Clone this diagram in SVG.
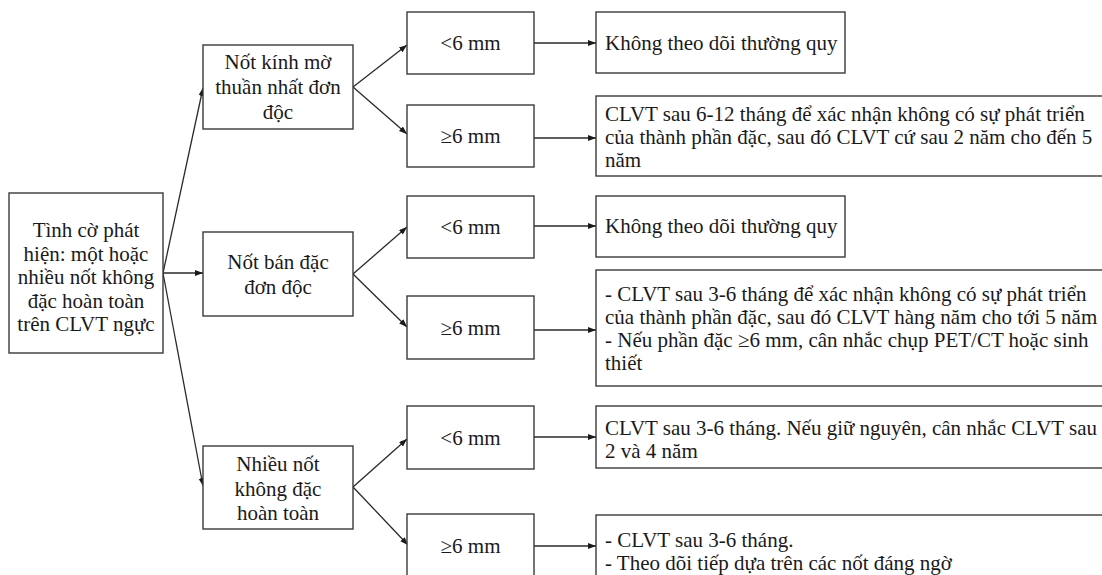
<svg xmlns="http://www.w3.org/2000/svg" width="1102" height="575" viewBox="0 0 1102 575">
  <style>
    .box { fill: #ffffff; stroke: #3a3a3a; stroke-width: 1.4; }
    .t { font-family: "Liberation Serif", "Times New Roman", serif; font-size: 21px; fill: #1a1a1a; }
    .c { text-anchor: middle; }
    .edge { fill: none; stroke: #2a2a2a; stroke-width: 1.3; marker-end: url(#arrow); }
  </style>
  <defs>
    <marker id="arrow" markerUnits="userSpaceOnUse" markerWidth="9" markerHeight="7" refX="8" refY="3" orient="auto">
      <path d="M0,0 L8,3 L0,6 z" fill="#1a1a1a"/>
    </marker>
  </defs>
  <rect width="1102" height="575" fill="#ffffff"/>

  <!-- connectors -->
  <g id="connectors">
    <line class="edge" x1="163" y1="273" x2="203" y2="88"/>
    <line class="edge" x1="163" y1="273" x2="203" y2="273"/>
    <line class="edge" x1="163" y1="273" x2="203" y2="486"/>

    <line class="edge" x1="353" y1="87" x2="407" y2="45"/>
    <line class="edge" x1="353" y1="87" x2="407" y2="134"/>
    <line class="edge" x1="353" y1="274" x2="407" y2="227"/>
    <line class="edge" x1="353" y1="274" x2="407" y2="327"/>
    <line class="edge" x1="353" y1="487" x2="407" y2="439"/>
    <line class="edge" x1="353" y1="487" x2="408" y2="545"/>

    <line class="edge" x1="534" y1="43" x2="596" y2="43"/>
    <line class="edge" x1="534" y1="138" x2="596" y2="138"/>
    <line class="edge" x1="534" y1="226" x2="596" y2="226"/>
    <line class="edge" x1="534" y1="330" x2="596" y2="330"/>
    <line class="edge" x1="534" y1="437" x2="596" y2="437"/>
    <line class="edge" x1="534" y1="546" x2="596" y2="546"/>
  </g>

  <!-- root -->
  <g id="root">
    <rect class="box" x="9" y="193" width="154" height="160"/>
    <text class="t c" x="86" y="237">Tình cờ phát</text>
    <text class="t c" x="86" y="260.5">hiện: một hoặc</text>
    <text class="t c" x="86" y="284">nhiều nốt không</text>
    <text class="t c" x="86" y="307.5">đặc hoàn toàn</text>
    <text class="t c" x="86" y="331">trên CLVT ngực</text>
  </g>

  <!-- nodule types -->
  <g id="ground-glass">
    <rect class="box" x="203" y="45" width="150" height="84"/>
    <text class="t c" x="278" y="69">Nốt kính mờ</text>
    <text class="t c" x="278" y="94">thuần nhất đơn</text>
    <text class="t c" x="278" y="119">độc</text>
  </g>
  <g id="part-solid">
    <rect class="box" x="203" y="232" width="150" height="84"/>
    <text class="t c" x="278" y="269">Nốt bán đặc</text>
    <text class="t c" x="278" y="294">đơn độc</text>
  </g>
  <g id="multiple">
    <rect class="box" x="203" y="446" width="150" height="83"/>
    <text class="t c" x="278" y="471">Nhiều nốt</text>
    <text class="t c" x="278" y="495.5">không đặc</text>
    <text class="t c" x="278" y="520">hoàn toàn</text>
  </g>

  <!-- size branches -->
  <g id="gg-small">
    <rect class="box" x="407" y="12" width="127" height="62"/>
    <text class="t c" x="470.5" y="50">&lt;6 mm</text>
  </g>
  <g id="gg-large">
    <rect class="box" x="407" y="105" width="127" height="62"/>
    <text class="t c" x="470.5" y="143">≥6 mm</text>
  </g>
  <g id="ps-small">
    <rect class="box" x="407" y="196" width="127" height="62"/>
    <text class="t c" x="470.5" y="234">&lt;6 mm</text>
  </g>
  <g id="ps-large">
    <rect class="box" x="407" y="296" width="127" height="63"/>
    <text class="t c" x="470.5" y="335">≥6 mm</text>
  </g>
  <g id="mu-small">
    <rect class="box" x="407" y="406" width="127" height="63"/>
    <text class="t c" x="470.5" y="445">&lt;6 mm</text>
  </g>
  <g id="mu-large">
    <rect class="box" x="407" y="514" width="127" height="70"/>
    <text class="t c" x="470.5" y="553">≥6 mm</text>
  </g>

  <!-- recommendations -->
  <g id="gg-small-action">
    <rect class="box" x="596" y="12" width="249" height="61"/>
    <text class="t" x="605" y="50">Không theo dõi thường quy</text>
  </g>
  <g id="gg-large-action">
    <rect class="box" x="596" y="96" width="512" height="80"/>
    <text class="t" x="605" y="121">CLVT sau 6-12 tháng để xác nhận không có sự phát triển</text>
    <text class="t" x="605" y="144">của thành phần đặc, sau đó CLVT cứ sau 2 năm cho đến 5</text>
    <text class="t" x="605" y="167">năm</text>
  </g>
  <g id="ps-small-action">
    <rect class="box" x="596" y="196" width="249" height="61"/>
    <text class="t" x="605" y="233">Không theo dõi thường quy</text>
  </g>
  <g id="ps-large-action">
    <rect class="box" x="596" y="270" width="512" height="116"/>
    <text class="t" x="605" y="300.5">- CLVT sau 3-6 tháng để xác nhận không có sự phát triển</text>
    <text class="t" x="605" y="323.5">của thành phần đặc, sau đó CLVT hàng năm cho tới 5 năm</text>
    <text class="t" x="605" y="347">- Nếu phần đặc ≥6 mm, cân nhắc chụp PET/CT hoặc sinh</text>
    <text class="t" x="605" y="370">thiết</text>
  </g>
  <g id="mu-small-action">
    <rect class="box" x="596" y="406" width="512" height="62"/>
    <text class="t" x="605" y="434.5">CLVT sau 3-6 tháng. Nếu giữ nguyên, cân nhắc CLVT sau</text>
    <text class="t" x="605" y="457.5">2 và 4 năm</text>
  </g>
  <g id="mu-large-action">
    <rect class="box" x="596" y="515" width="512" height="70"/>
    <text class="t" x="605" y="547">- CLVT sau 3-6 tháng.</text>
    <text class="t" x="605" y="570">- Theo dõi tiếp dựa trên các nốt đáng ngờ</text>
  </g>
</svg>
